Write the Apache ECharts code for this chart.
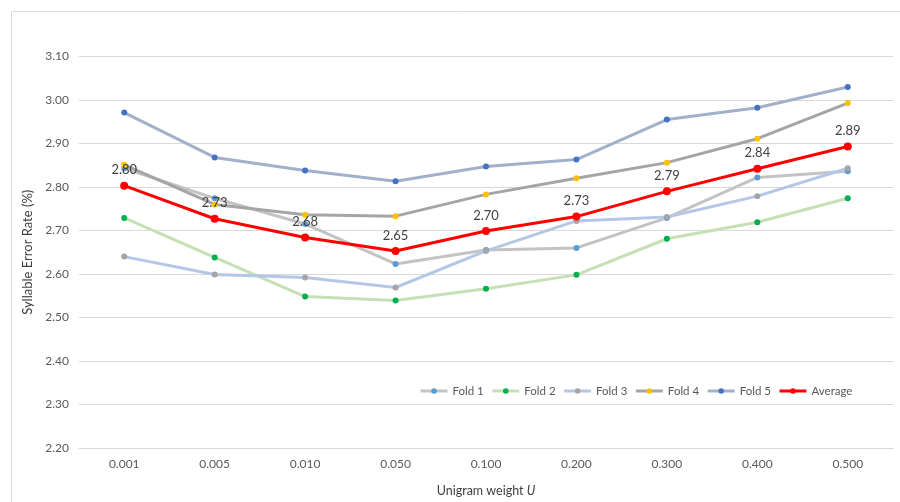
<!DOCTYPE html>
<html>
<head>
<meta charset="utf-8">
<script src="https://cdn.jsdelivr.net/npm/echarts@6/dist/echarts.min.js"></script>
<style>html,body{margin:0;padding:0;background:#fff;}#c{width:900px;height:502px;}</style>
</head>
<body>
<div id="c"></div>
<script>
var categories = ['0.001','0.005','0.010','0.050','0.100','0.200','0.300','0.400','0.500'];
var fold1 = [2.843, 2.774, 2.715, 2.623, 2.655, 2.660, 2.729, 2.822, 2.836];
var fold2 = [2.729, 2.638, 2.548, 2.539, 2.566, 2.598, 2.681, 2.719, 2.774];
var fold3 = [2.640, 2.599, 2.592, 2.569, 2.653, 2.722, 2.731, 2.779, 2.843];
var fold4 = [2.851, 2.760, 2.736, 2.733, 2.783, 2.820, 2.856, 2.911, 2.993];
var fold5 = [2.971, 2.868, 2.838, 2.813, 2.847, 2.863, 2.955, 2.982, 3.030];
var average = [2.803, 2.727, 2.684, 2.653, 2.699, 2.732, 2.790, 2.842, 2.893];
var seriesNames = ['Fold 1','Fold 2','Fold 3','Fold 4','Fold 5','Average'];

var FONT = 'Lato, "Liberation Sans", Arial, sans-serif';
var lineColors = ['#c3c3c3', '#c5e0b4', '#b4c7e7', '#a5a5a5', '#a2b0ca', '#ff0000'];
var markColors = ['#5b9bd5', '#00b050', '#a5a5a5', '#ffc000', '#4472c4', '#ff0000'];
var chart = echarts.init(document.getElementById('c'), null, {renderer: 'canvas'});

function fold(i, data) {
  return {
    name: seriesNames[i], type: 'line', data: data,
    symbol: 'circle', symbolSize: 6,
    lineStyle: {color: lineColors[i], width: 3},
    itemStyle: {color: markColors[i], borderColor: markColors[i], borderWidth: 0},
    emphasis: {disabled: true},
    z: 2
  };
}

var option = {
  animation: false,
  textStyle: {fontFamily: FONT},
  graphic: [{
    type: 'rect', shape: {x: 11.5, y: 11.5, width: 900, height: 600},
    style: {fill: 'none', stroke: '#d9d9d9', lineWidth: 1}, silent: true, z: -10
  }],
  grid: {left: 79, right: 7, top: 56.5, bottom: 52, containLabel: false},
  legend: {
    show: true,
    data: seriesNames.map(function (n, i) {
      return {name: n, itemStyle: {color: markColors[i]}, lineStyle: {color: lineColors[i], width: 3}};
    }),
    left: 414, top: 380,
    itemWidth: 27, itemHeight: 7, itemGap: 7,
    textStyle: {color: '#595959', fontSize: 11.5, fontFamily: FONT},
    selectedMode: false
  },
  xAxis: {
    type: 'category', data: categories, boundaryGap: true,
    axisLine: {show: true, lineStyle: {color: '#d9d9d9', width: 1}},
    axisTick: {show: false},
    axisLabel: {color: '#595959', fontSize: 12, margin: 10, fontFamily: FONT},
    name: '{a|Unigram weight }{b|U}',
    nameLocation: 'middle', nameGap: 36,
    nameTextStyle: {
      rich: {
        a: {color: '#404040', fontSize: 12.5, fontFamily: FONT},
        b: {color: '#404040', fontSize: 12.5, fontStyle: 'italic', fontFamily: FONT}
      }
    }
  },
  yAxis: {
    type: 'value', min: 2.2, max: 3.1, interval: 0.1,
    axisLine: {show: false}, axisTick: {show: false},
    splitLine: {lineStyle: {color: '#d9d9d9', width: 1}},
    axisLabel: {color: '#595959', fontSize: 12, margin: 10, fontFamily: FONT,
      formatter: function (v) { return v.toFixed(2); }},
    name: 'Syllable Error Rate (%)', nameLocation: 'middle', nameGap: 42,
    nameTextStyle: {color: '#404040', fontSize: 13, fontFamily: FONT}
  },
  series: [
    fold(0, fold1),
    fold(1, fold2),
    fold(2, fold3),
    fold(3, fold4),
    fold(4, fold5),
    {
      name: 'Average', type: 'line', data: average,
      symbol: 'circle', symbolSize: 8,
      lineStyle: {color: '#ff0000', width: 3},
      itemStyle: {color: '#ff0000'},
      label: {show: true, position: 'top', distance: 5, color: '#404040', fontSize: 13, fontFamily: FONT,
        formatter: function (p) { return p.value.toFixed(2); }},
      emphasis: {disabled: true},
      z: 5
    }
  ]
};
chart.setOption(option);
</script>
</body>
</html>
